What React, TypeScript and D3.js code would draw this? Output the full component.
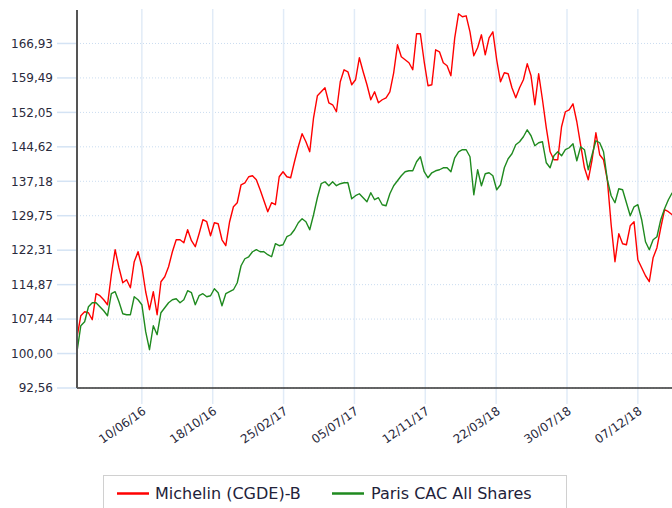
import React, { useEffect, useRef } from 'react';
import * as d3 from 'd3';

// weekly closes, rebased to 100
const startDate = '2016-02-12';
const stepDays = 7;

const michelin = [
  103.5, 108.16, 109.03, 108.81, 107.3, 112.91, 112.48, 111.62, 110.54, 117.01,
  122.41, 118.52, 115.28, 115.93, 114.2, 119.82, 121.97, 118.74, 113.34, 109.46,
  113.34, 108.38, 115.5, 116.58, 118.74, 121.97, 124.56, 124.56, 123.92, 126.72,
  124.35, 123.05, 125.86, 128.88, 128.45, 125.43, 128.23, 128.02, 124.56, 123.27,
  128.45, 131.68, 132.55, 136.43, 136.86, 138.16, 138.37, 137.51, 135.35, 132.98,
  130.61, 132.55, 132.12, 138.16, 139.24, 138.16, 137.94, 141.4, 144.63, 147.44,
  145.71, 143.55, 150.89, 155.64, 156.5, 157.36, 154.13, 153.7, 152.19, 158.66,
  161.25, 160.82, 158.01, 159.09, 163.84, 160.82, 158.01, 154.78, 156.5, 154.13,
  154.78, 155.21, 156.5, 160.6, 166.64, 164.05, 163.41, 162.76, 161.25, 169.02,
  169.02, 162.98, 157.8, 158.01, 165.56, 165.13, 162.76, 162.11, 159.95, 168.15,
  173.33, 172.69, 172.9, 169.45, 164.27, 166.0, 168.8, 164.49, 168.15, 169.45,
  163.41, 158.66, 160.6, 160.39, 157.36, 155.21, 157.36, 159.09, 162.54, 159.95,
  153.7, 160.39, 154.78, 148.73, 143.55, 141.83, 141.83, 148.95, 152.19, 152.62,
  153.91, 150.03, 145.06, 140.1, 137.51, 141.83, 147.65, 142.91, 141.83, 137.51,
  127.8, 119.82, 125.86, 123.7, 123.48, 127.58, 128.45, 120.25, 118.52, 116.79,
  115.5, 120.68, 122.84, 127.15, 131.04, 130.61, 129.96,
];

const cacAllShares = [
  100.4, 106.0, 106.87, 110.1, 110.97, 110.97, 110.1, 109.24, 108.16, 112.91,
  113.34, 111.18, 108.59, 108.38, 108.38, 112.26, 111.62, 110.54, 104.71, 100.83,
  106.0, 104.06, 108.81, 109.89, 110.97, 111.62, 111.83, 110.97, 111.62, 113.56,
  113.13, 110.54, 112.48, 112.91, 112.26, 112.48, 113.99, 113.13, 110.32, 112.91,
  113.34, 113.77, 115.28, 118.95, 120.46, 120.89, 121.97, 122.41, 121.97, 121.97,
  121.33, 120.89, 123.7, 123.27, 123.48, 125.21, 125.64, 126.72, 128.23, 129.09,
  128.45, 126.72, 129.96, 133.63, 136.65, 137.08, 136.22, 137.08, 136.22, 136.65,
  136.86, 136.86, 133.41, 134.06, 134.49, 133.63, 132.76, 134.71, 133.2, 133.63,
  132.12, 131.9, 134.49, 136.22, 137.3, 138.37, 139.24, 139.45, 139.45, 141.4,
  142.47, 139.24, 137.94, 139.02, 139.45, 139.67, 140.1, 140.1, 139.24, 142.26,
  143.55, 143.99, 143.99, 142.47, 134.27, 139.67, 136.22, 138.81, 139.02, 138.37,
  135.35, 136.43, 140.1, 142.04, 143.12, 145.06, 145.71, 146.79, 148.3, 147.01,
  144.85, 145.5, 145.71, 141.18, 140.1, 142.69, 143.55, 142.69, 143.99, 144.42,
  145.28, 141.61, 144.63, 143.99, 139.67, 142.91, 145.93, 145.5, 143.55, 137.51,
  134.06, 132.55, 135.57, 135.35, 132.55, 129.74, 131.68, 132.12, 128.88, 124.13,
  122.41, 124.56, 125.21, 128.88, 131.25, 133.2, 134.71,
];

const seriesNames = ['Michelin (CGDE)-B', 'Paris CAC All Shares'];
const seriesColors = ['#ff0000', '#1f8a1f'];

const yTicks = [92.56, 100.0, 107.44, 114.87, 122.31, 129.75, 137.18, 144.62, 152.05, 159.49, 166.93];
const xTicks = ['2016-06-10', '2016-10-18', '2017-02-25', '2017-07-05', '2017-11-12', '2018-03-22', '2018-07-30', '2018-12-07'];

const W = 672;
const H = 508;

const App = () => {
  const ref = useRef<SVGSVGElement>(null);

  useEffect(() => {
    const svg = d3.select(ref.current);
    svg.selectAll('*').remove();

    const left = 77, top = 9, bottom = 388, right = W;
    const t0 = new Date(startDate + 'T00:00:00Z');
    const dates = michelin.map((_, i) => d3.utcDay.offset(t0, i * stepDays));

    const x = d3.scaleUtc()
      .domain([dates[0], dates[dates.length - 1]])
      .range([left, 672.2]);
    const y = d3.scaleLinear()
      .domain([92.56, 174.37])
      .range([bottom, top]);

    const font = '"DejaVu Sans", Verdana, sans-serif';
    const fmtY = (v: number) => v.toFixed(2).replace('.', ',');
    const fmtX = d3.utcFormat('%d/%m/%y');
    const tickDates = xTicks.map(s => new Date(s + 'T00:00:00Z'));

    // horizontal grid + y tick marks
    const gy = svg.append('g');
    gy.selectAll('line.grid')
      .data(yTicks)
      .enter().append('line')
      .attr('x1', left).attr('x2', right)
      .attr('y1', d => y(d)).attr('y2', d => y(d))
      .attr('stroke', '#cadcf0')
      .attr('stroke-dasharray', '1,2');
    gy.selectAll('line.tick')
      .data(yTicks)
      .enter().append('line')
      .attr('x1', 57).attr('x2', left)
      .attr('y1', d => y(d)).attr('y2', d => y(d))
      .attr('stroke', '#d4e3f4')
      .attr('stroke-width', 1.5);
    gy.selectAll('text')
      .data(yTicks)
      .enter().append('text')
      .attr('x', 53)
      .attr('y', d => y(d))
      .attr('dy', '0.36em')
      .attr('text-anchor', 'end')
      .attr('font-family', font)
      .attr('font-size', 12)
      .attr('fill', '#2a2a3c')
      .text(d => fmtY(d));

    // vertical grid, running below the axis as tick marks
    const gx = svg.append('g');
    gx.selectAll('line')
      .data(tickDates)
      .enter().append('line')
      .attr('x1', d => x(d)).attr('x2', d => x(d))
      .attr('y1', top).attr('y2', 404)
      .attr('stroke', '#e1ebf7')
      .attr('stroke-width', 1.5);
    gx.selectAll('text')
      .data(tickDates)
      .enter().append('text')
      .attr('transform', d => `translate(${x(d)},406) rotate(-35)`)
      .attr('dy', '0.71em')
      .attr('text-anchor', 'end')
      .attr('font-family', font)
      .attr('font-size', 12)
      .attr('fill', '#2a2a3c')
      .text(d => fmtX(d));

    // series
    svg.append('clipPath').attr('id', 'plot-clip')
      .append('rect')
      .attr('x', left).attr('y', 0)
      .attr('width', right - left).attr('height', bottom);

    const line = d3.line<number>()
      .x((_, i) => x(dates[i]))
      .y(d => y(d));

    [michelin, cacAllShares].forEach((s, k) => {
      svg.append('path')
        .datum(s)
        .attr('clip-path', 'url(#plot-clip)')
        .attr('fill', 'none')
        .attr('stroke', seriesColors[k])
        .attr('stroke-width', 1.4)
        .attr('stroke-linejoin', 'round')
        .attr('d', line);
    });

    // axes
    svg.append('line')
      .attr('x1', left).attr('x2', right)
      .attr('y1', bottom).attr('y2', bottom)
      .attr('stroke', '#333').attr('stroke-width', 1.5);
    svg.append('line')
      .attr('x1', left).attr('x2', left)
      .attr('y1', 10).attr('y2', bottom)
      .attr('stroke', '#555').attr('stroke-width', 2);

    // legend
    const lg = svg.append('g');
    lg.append('rect')
      .attr('x', 103.5).attr('y', 475.5)
      .attr('width', 463).attr('height', 40)
      .attr('fill', '#fff')
      .attr('stroke', '#d0d0d0');
    const items = [
      { lineX: 117, textX: 155 },
      { lineX: 332, textX: 371 },
    ];
    items.forEach((it, k) => {
      lg.append('line')
        .attr('x1', it.lineX).attr('x2', it.lineX + 32)
        .attr('y1', 493.5).attr('y2', 493.5)
        .attr('stroke', seriesColors[k])
        .attr('stroke-width', 2.5);
      lg.append('text')
        .attr('x', it.textX).attr('y', 493.5)
        .attr('dy', '0.36em')
        .attr('font-family', font)
        .attr('font-size', 16)
        .attr('fill', '#22223a')
        .text(seriesNames[k]);
    });
  }, []);

  return (
    <svg
      ref={ref}
      width={W}
      height={H}
      style={{ position: 'absolute', left: 0, top: 0, background: '#fff' }}
    />
  );
};

export default App;
